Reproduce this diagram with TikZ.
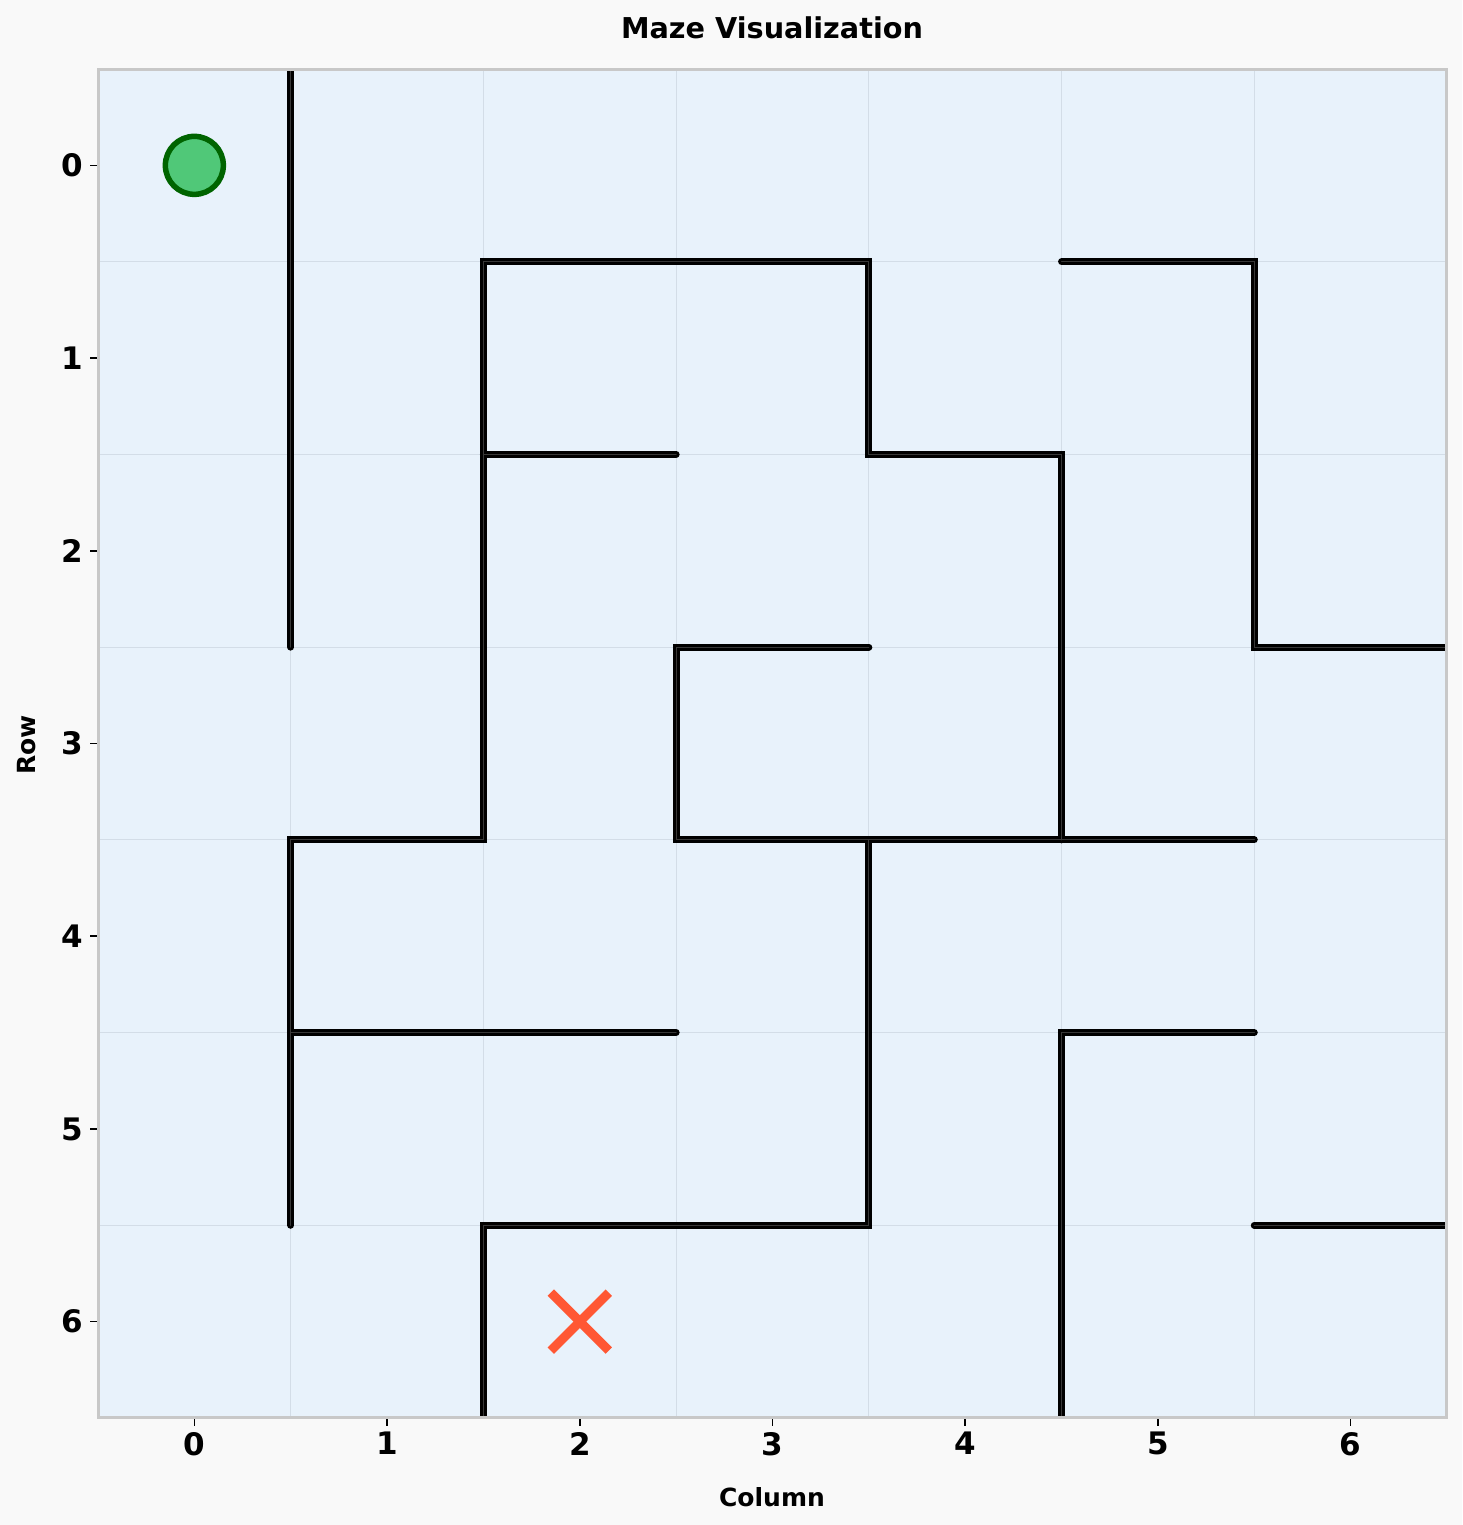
\documentclass[tikz,border=0pt]{standalone}
\usepackage{fontspec}
\setmainfont{DejaVu Sans}
\definecolor{outerbg}{HTML}{F9F9F9}
\definecolor{plotbg}{HTML}{E8F2FB}
\definecolor{framec}{HTML}{C8C8C8}
\definecolor{gridc}{HTML}{D3DDE7}
\definecolor{startfill}{HTML}{50C878}
\definecolor{startedge}{HTML}{006400}
\definecolor{endc}{HTML}{FF5733}
\tikzset{
  wallline/.style={line width=7pt,black,line cap=round,line join=miter},
  wallmid/.style={line width=1.1pt,black!78,line cap=round,line join=miter},
  ticklab/.style={font=\bfseries\fontsize{31}{31}\selectfont,inner sep=0pt},
  axlab/.style={font=\bfseries\fontsize{25}{25}\selectfont,inner sep=0pt},
  titlelab/.style={font=\bfseries\fontsize{28.7}{28.7}\selectfont,inner sep=0pt},
  tickmark/.style={line width=1.6pt,black}
}
\newcommand{\mazewalls}[1]{%
  \draw[#1] (0.5,-0.5) -- (0.5,2.5);
  \draw[#1] (0.5,5.5) -- (0.5,3.5) -- (1.5,3.5) -- (1.5,0.5) -- (3.5,0.5) -- (3.5,1.5) -- (4.5,1.5) -- (4.5,3.5);
  \draw[#1] (1.5,1.5) -- (2.5,1.5);
  \draw[#1] (4.5,0.5) -- (5.5,0.5) -- (5.5,2.5) -- (6.5,2.5);
  \draw[#1] (3.5,2.5) -- (2.5,2.5) -- (2.5,3.5) -- (5.5,3.5);
  \draw[#1] (0.5,4.5) -- (2.5,4.5);
  \draw[#1] (3.5,3.5) -- (3.5,5.5) -- (1.5,5.5) -- (1.5,6.5);
  \draw[#1] (4.5,6.5) -- (4.5,4.5) -- (5.5,4.5);
  \draw[#1] (5.5,5.5) -- (6.5,5.5);
}
\begin{document}
\begin{tikzpicture}[x=1pt,y=-1pt]
\useasboundingbox (0,0) rectangle (1462,1525);
\fill[outerbg] (0,0) rectangle (1462,1525);
\begin{scope}[shift={(194.36,165.36)},x=192.71pt,y=-192.71pt]
  \fill[plotbg] (-0.5,-0.5) rectangle (6.5,6.5);
  \foreach \g in {0.5,1.5,...,5.5} {
    \draw[gridc,line width=1.1pt] (\g,-0.5) -- (\g,6.5);
    \draw[gridc,line width=1.1pt] (-0.5,\g) -- (6.5,\g);
  }
  \begin{scope}
    \clip (-0.5,-0.5) rectangle (6.5,6.5);
    \mazewalls{wallline}
    \mazewalls{wallmid}
  \end{scope}
  \node[circle,draw=startedge,fill=startfill,line width=5.5pt,minimum size=58pt,inner sep=0pt] (start) at (0,0) {};
  \coordinate (goal) at (2,6);
  \draw[endc,line width=9pt] ([shift={(-29pt,-29pt)}]goal) -- ([shift={(29pt,29pt)}]goal);
  \draw[endc,line width=9pt] ([shift={(-29pt,29pt)}]goal) -- ([shift={(29pt,-29pt)}]goal);
  \draw[framec,line width=3pt] (-0.5,-0.5) rectangle (6.5,6.5);
  \foreach \i in {0,...,6} {
    \coordinate (xt\i) at (\i,6.5);
    \coordinate (yt\i) at (-0.5,\i);
    \draw[tickmark] ([yshift=-1.5pt]xt\i) -- ([yshift=-8.5pt]xt\i);
    \draw[tickmark] ([xshift=-1.5pt]yt\i) -- ([xshift=-8.5pt]yt\i);
    \node[ticklab,anchor=north] (xl\i) at ([yshift=-14pt]xt\i) {\i};
    \node[ticklab,anchor=east] (yl\i) at ([xshift=-15pt]yt\i) {\i};
  }
\end{scope}
\node[titlelab] (title) at (772,28) {Maze Visualization};
\node[axlab] (xlabel) at (772,1497) {Column};
\node[axlab,rotate=90] (ylabel) at (27,745) {Row};
\end{tikzpicture}
\end{document}
